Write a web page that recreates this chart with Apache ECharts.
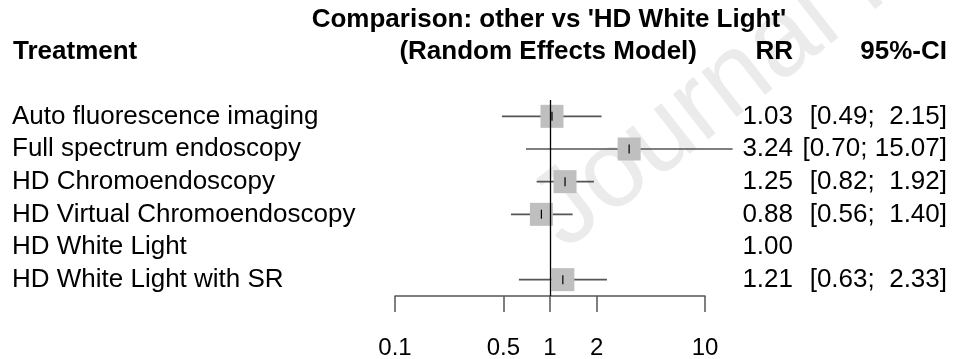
<!DOCTYPE html>
<html>
<head>
<meta charset="utf-8">
<script src="https://cdn.jsdelivr.net/npm/echarts@6/dist/echarts.min.js"></script>
<style>
  html, body { margin: 0; padding: 0; background: #fff; }
  #forest { width: 953px; height: 359px; }
</style>
</head>
<body>
<div id="forest"></div>
<script>
// 数据
const treatments = [
  'Auto fluorescence imaging',
  'Full spectrum endoscopy',
  'HD Chromoendoscopy',
  'HD Virtual Chromoendoscopy',
  'HD White Light',
  'HD White Light with SR'
]
const rr = [1.03, 3.24, 1.25, 0.88, 1.00, 1.21]
const ciLower = [0.49, 0.70, 0.82, 0.56, null, 0.63]
const ciUpper = [2.15, 15.07, 1.92, 1.40, null, 2.33]
const tickValues = [0.1, 0.5, 1, 2, 10]

const FONT = 'Liberation Sans, Arial, sans-serif'

function ciText(i) {
  if (ciLower[i] == null) return ''
  const lo = ciLower[i].toFixed(2)
  const hi = ciUpper[i].toFixed(2).padStart(5, ' ')
  return '[' + lo + '; ' + hi + ']'
}

// 只画有置信区间的行
const forestData = []
rr.forEach((v, i) => {
  if (ciLower[i] != null) forestData.push([v, i, ciLower[i], ciUpper[i]])
})

const myChart = echarts.init(document.getElementById('forest'))

function headerText(text, x, y, align) {
  return {
    type: 'text',
    x: x,
    y: y,
    style: {
      text: text,
      font: 'bold 26px ' + FONT,
      fill: '#000',
      textAlign: align,
      textVerticalAlign: 'middle'
    }
  }
}

// 三个纵轴共用的设置，只有标签不同
function rowAxis(position, align, margin, formatter) {
  return {
    type: 'category',
    inverse: true,
    position: position,
    data: treatments,
    axisLine: { show: false },
    axisTick: { show: false },
    splitLine: { show: false },
    axisLabel: {
      interval: 0,
      hideOverlap: false,
      align: align,
      margin: margin,
      fontSize: 26,
      color: '#000',
      fontFamily: FONT,
      formatter: formatter
    }
  }
}

const option = {
  animation: false,
  backgroundColor: '#fff',
  grid: {
    left: 395,
    right: 248,
    top: 100,
    bottom: 63,
    containLabel: false,
    outerBoundsMode: 'none'
  },
  xAxis: {
    type: 'log',
    logBase: 10,
    min: 0.1,
    max: 10,
    splitLine: { show: false },
    minorTick: { show: false },
    axisLine: { show: true, lineStyle: { color: '#555', width: 1.5 } },
    axisTick: {
      show: true,
      inside: false,
      length: 16,
      customValues: tickValues,
      lineStyle: { color: '#555', width: 1.5 }
    },
    axisLabel: {
      customValues: tickValues,
      formatter: v => String(v),
      margin: 40,
      fontSize: 24,
      color: '#000',
      fontFamily: FONT
    }
  },
  yAxis: [
    rowAxis('left', 'left', 383, v => v),             // 治疗名称
    rowAxis('right', 'right', 88, (v, i) => rr[i].toFixed(2)), // RR
    rowAxis('right', 'right', 242, (v, i) => ciText(i))        // 95%-CI
  ],
  graphic: [
    {
      // 水印
      type: 'text',
      z: -10,
      x: 580,
      y: 270,
      rotation: 0.663,
      style: {
        text: 'Journal Pre-proof',
        font: '108px ' + FONT,
        fill: '#ebebeb',
        textAlign: 'left',
        textVerticalAlign: 'bottom'
      }
    },
    headerText("Comparison: other vs 'HD White Light'", 549, 20, 'center'),
    headerText('Treatment', 13, 52, 'left'),
    headerText('(Random Effects Model)', 697, 52, 'right'),
    headerText('RR', 793, 52, 'right'),
    headerText('95%-CI', 947, 52, 'right')
  ],
  series: [
    {
      type: 'custom',
      xAxisIndex: 0,
      yAxisIndex: 0,
      clip: false,
      encode: { x: [0, 2, 3], y: 1 },
      data: forestData,
      renderItem: (params, api) => {
        const mid = api.coord([api.value(0), api.value(1)])
        const lo = api.coord([api.value(2), api.value(1)])
        const hi = api.coord([api.value(3), api.value(1)])
        const size = 23
        return {
          type: 'group',
          children: [
            {
              type: 'line',
              shape: { x1: lo[0], y1: lo[1], x2: hi[0], y2: hi[1] },
              style: { stroke: '#555', lineWidth: 1.6 }
            },
            {
              type: 'rect',
              shape: { x: mid[0] - size / 2, y: mid[1] - size / 2, width: size, height: size },
              style: { fill: '#bfbfbf' }
            },
            {
              type: 'line',
              shape: { x1: mid[0], y1: mid[1] - 4.5, x2: mid[0], y2: mid[1] + 4.5 },
              style: { stroke: '#000', lineWidth: 1.2 }
            }
          ]
        }
      },
      markLine: {
        silent: true,
        symbol: 'none',
        label: { show: false },
        lineStyle: { color: '#000', width: 1.3, type: 'solid' },
        data: [{ xAxis: 1 }]
      }
    }
  ]
}

option && myChart.setOption(option)
</script>
</body>
</html>
